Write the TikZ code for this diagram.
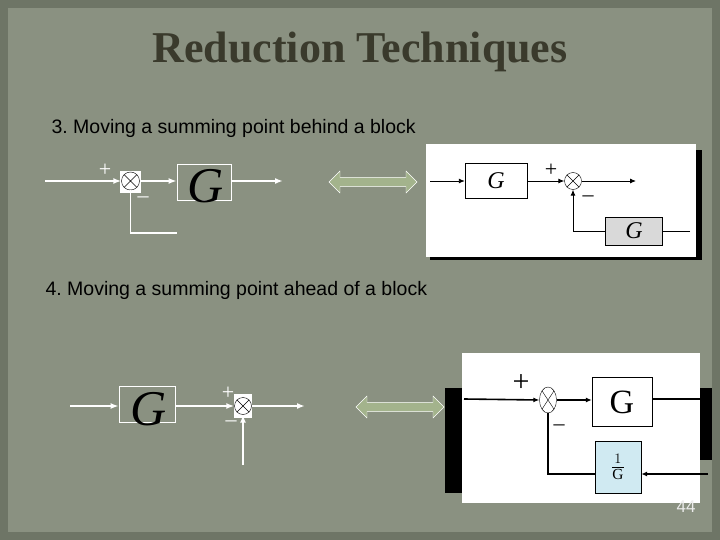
\documentclass[tikz,border=0pt]{standalone}
\usepackage{fontspec}
\setmainfont{Liberation Serif}
\newfontfamily\arial{Liberation Sans}
\usetikzlibrary{arrows.meta,shapes.arrows,shapes.geometric}
\definecolor{bg}{HTML}{8A9181}
\definecolor{edge}{HTML}{6E7566}
\definecolor{ttl}{HTML}{3A3A2C}
\definecolor{arr}{HTML}{A3B38C}
\definecolor{lblue}{HTML}{D0EAF2}
\begin{document}
\begin{tikzpicture}[x=1pt,y=-1pt,
  wl/.style={white,line width=1.8pt},
  bl/.style={black,line width=0.9pt},
  wa/.style={wl,-{Latex[length=8pt,width=6pt]}},
  ba/.style={bl,-{Latex[length=6pt,width=5pt]}},
  sumw/.style={circle,draw=black,fill=white,minimum size=19pt,inner sep=0,path picture={\draw[black] (path picture bounding box.north west)--(path picture bounding box.south east) (path picture bounding box.north east)--(path picture bounding box.south west);}},
  dbl/.style={double arrow,draw=white,fill=arr,minimum height=88pt,minimum width=22pt,double arrow head extend=3pt,inner sep=2pt},
  sign/.style={font=\fontsize{22}{22}\selectfont,inner sep=0}]
\fill[edge] (0,0) rectangle (720,540);
\fill[bg] (8,8) rectangle (712,532);
\useasboundingbox (0,0) rectangle (720,540);
\node[font=\bfseries\fontsize{44}{46}\selectfont,text=ttl] (title) at (360,52) {Reduction Techniques};
\node[font=\arial\fontsize{19.5}{22}\selectfont,anchor=west] (t3) at (48,128) {3.\ Moving a summing point behind a block};
\node[font=\arial\fontsize{19.5}{22}\selectfont,anchor=west] (t4) at (42,290) {4.\ Moving a summing point ahead of a block};
% top left
\coordinate (a1) at (45,181);
\fill[white] (120,171) rectangle (141,193);
\node[sumw,minimum size=18pt] (s1) at (130.5,181) {};
\node[draw=white,line width=0.8pt,minimum width=54pt,minimum height=36pt,inner sep=0] (g1) at (204,182) {};
\node[font=\fontsize{50}{50}\selectfont\itshape,inner sep=0] (g1t) at (206,186) {G};
\coordinate (o1) at (283,181);
\coordinate (f1) at (177,233);
\draw[wa] (a1) -- (s1.west);
\draw[wl,line width=2pt] (141,181) -- (172,181);
\draw[wa] (s1.east) -- (s1.east-|g1.west);
\draw[wa] (g1.east|-o1) -- (o1);
\draw[wl] (s1.south) |- (f1);
\node[sign,text=white] (p1) at (105,170) {+};
\node[sign,text=white] (m1) at (143,200) {\textendash};
\node[dbl] (d1) at (373,182) {};
% top right panel
\fill[black] (430,150) rectangle (702,260);
\fill[white] (426,144) rectangle (696,257);
\coordinate (a2) at (430,181);
\node[draw=black,fill=white,minimum width=62pt,minimum height=35pt,inner sep=0,font=\fontsize{24}{24}\selectfont\itshape] (g2) at (496,181) {G};
\node[sumw,minimum size=17pt] (s2) at (573,181) {};
\coordinate (o2) at (636,181);
\node[draw=black,fill=black!15,minimum width=57pt,minimum height=28pt,inner sep=0,font=\fontsize{24}{24}\selectfont\itshape] (g3) at (634,231) {G};
\coordinate (r2) at (690,231);
\draw[ba] (a2) -- (g2);
\draw[ba] (g2) -- (s2);
\draw[ba] (s2) -- (o2);
\draw[bl] (r2) -- (g3.east);
\draw[ba] (g3.west) -| (s2.south);
\node[sign] (p2) at (551,170) {+};
\node[sign] (m2) at (588,199) {\textendash};
% bottom left
\coordinate (a3) at (70,406);
\node[draw=white,line width=0.8pt,minimum width=56pt,minimum height=36pt,inner sep=0] (g4) at (147,404) {};
\node[font=\fontsize{50}{50}\selectfont\itshape,inner sep=0] (g4t) at (149,409) {G};
\fill[white] (234,394) rectangle (252,418);
\node[sumw,minimum size=17pt] (s3) at (243,406) {};
\coordinate (o3) at (305,406);
\coordinate (f3) at (243,465);
\draw[wa] (a3) -- (a3-|g4.west);
\draw[wl,line width=2pt] (175,406) -- (229,406);
\draw[wa] (s3.west-|g4.east) -- (s3.west);
\draw[wa] (s3.east) -- (o3);
\draw[wa] (f3) -- (s3.south);
\node[sign,text=white] (p3) at (228,393) {+};
\node[sign,text=white] (m3) at (231,424) {\textendash};
\node[dbl] (d2) at (400,407) {};
% bottom right panel
\fill[black] (445,388) rectangle (464,493);
\fill[black] (698,388) rectangle (712,460);
\fill[white] (462,353) rectangle (700,503);
\coordinate (a4) at (464,399);
\node[ellipse,draw=black,fill=white,minimum width=17pt,minimum height=26pt,inner sep=0,path picture={\draw (path picture bounding box.north west)--(path picture bounding box.south east) (path picture bounding box.north east)--(path picture bounding box.south west);}] (s4) at (548,400) {};
\node[draw=black,fill=white,minimum width=60pt,minimum height=49pt,inner sep=0,font=\fontsize{34}{34}\selectfont] (g5) at (622,402) {G};
\coordinate (o4) at (708,399);
\node[draw=black,fill=lblue,minimum width=46pt,minimum height=52pt,inner sep=0,font=\fontsize{22}{22}\selectfont] (g6) at (618,467) {$\frac{1}{\mathrm{G}}$};
\coordinate (r4) at (708,474);
\draw[ba,line width=1.6pt] (a4) -- (s4.west);
\draw[ba,line width=1.6pt] (s4.east) -- (g5.west|-s4);
\draw[ba,line width=1.6pt] (g5.east|-o4) -- (o4);
\draw[ba,line width=1.6pt] (r4) -- (g6.east|-r4);
\draw[bl,line width=1.2pt] (g6.west|-r4) -| (s4.south);
\node[sign,font=\fontsize{30}{30}\selectfont] (p4) at (521,383) {+};
\node[sign] (m4) at (559,428) {\textendash};
\node[text=white!85!gray,font=\arial\fontsize{17}{17}\selectfont] (pg) at (686,507) {44};
\end{tikzpicture}
\end{document}
